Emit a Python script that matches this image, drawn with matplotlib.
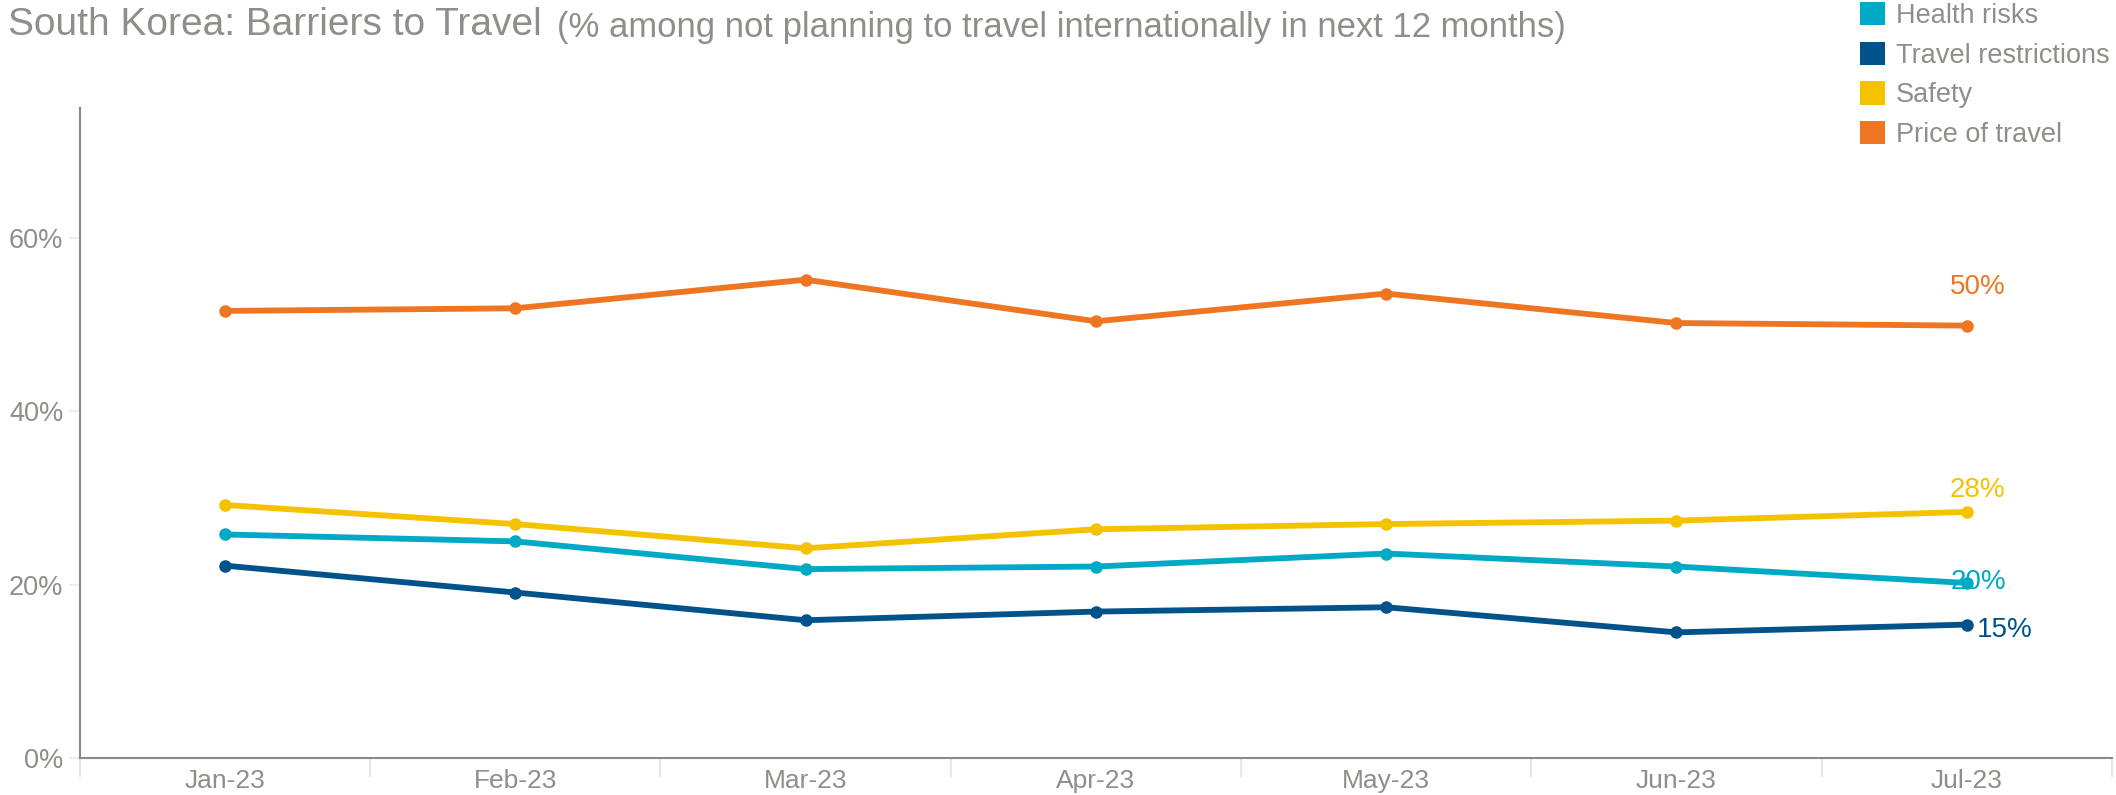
import matplotlib
matplotlib.use("Agg")
import matplotlib.pyplot as plt
from matplotlib.patches import Patch

months = ["Jan-23", "Feb-23", "Mar-23", "Apr-23", "May-23", "Jun-23", "Jul-23"]
series_names = ["Health risks", "Travel restrictions", "Safety", "Price of travel"]
health_risks = [25.8, 25.0, 21.8, 22.1, 23.6, 22.1, 20.2]
travel_restrictions = [22.2, 19.1, 15.9, 16.9, 17.4, 14.5, 15.4]
safety = [29.2, 27.0, 24.2, 26.4, 27.0, 27.4, 28.4]
price_of_travel = [51.6, 51.9, 55.2, 50.4, 53.6, 50.2, 49.9]
end_labels = ["20%", "15%", "28%", "50%"]

colors = ["#00A9C5", "#00528A", "#F5C200", "#EE7623"]
grey = "#8E8E8A"
plt.rcParams["font.family"] = ["Liberation Sans", "DejaVu Sans"]

fig = plt.figure(figsize=(21.16, 7.95), dpi=100)
ax = fig.add_axes([0.0378, 0.0465, 0.9602, 0.8175])

x = list(range(len(months)))
data = [health_risks, travel_restrictions, safety, price_of_travel]
for vals, c in zip(data, colors):
    ax.plot(x, vals, color=c, lw=4.2, marker="o", ms=8, solid_capstyle="round")

# value labels at last point
offsets = [(12, 1, "center"), (10, -5, "left"), (11, 22, "center"), (11, 39, "center")]
for vals, c, lab, (dx, dy, ha) in zip(data, colors, end_labels, offsets):
    ax.annotate(lab, (x[-1], vals[-1]), xytext=(dx, dy), textcoords="offset pixels",
                ha=ha, va="center", color=c, fontsize=20)

ax.set_xlim(-0.5, 6.5)
ax.set_ylim(0, 75)
ax.set_yticks([0, 20, 40, 60])
ax.set_yticklabels(["0%", "20%", "40%", "60%"])
ax.set_xticks(x)
ax.set_xticklabels(months)
ax.set_xticks([i - 0.5 for i in range(len(months) + 1)], minor=True)

for s in ["top", "right"]:
    ax.spines[s].set_visible(False)
for s in ["left", "bottom"]:
    ax.spines[s].set_color("#8a8a8a")
    ax.spines[s].set_linewidth(1.5)

ax.tick_params(axis="y", length=8, color="#eeeeee", width=1.5, labelcolor=grey,
               labelsize=19.5, pad=4)
ax.tick_params(axis="x", which="major", length=0, labelcolor=grey, labelsize=19, pad=8)
ax.tick_params(axis="x", which="minor", length=14, color="#e6e6e6", width=1.5)

fig.text(0.004, 0.968, "South Korea: Barriers to Travel", fontsize=28, color=grey,
         va="center", ha="left")
fig.text(0.263, 0.965, "(% among not planning to travel internationally in next 12 months)",
         fontsize=24.9, color=grey, va="center", ha="left")

handles = [Patch(facecolor=c, edgecolor="none") for c in colors]
leg = fig.legend(handles, series_names, loc="upper left", bbox_to_anchor=(0.879, 0.997),
                 frameon=False, fontsize=19.5, handlelength=0.93, handleheight=0.93,
                 handletextpad=0.4, labelspacing=0.47, borderaxespad=0, borderpad=0)
for t in leg.get_texts():
    t.set_color(grey)

fig.savefig("out.png", dpi=100)
